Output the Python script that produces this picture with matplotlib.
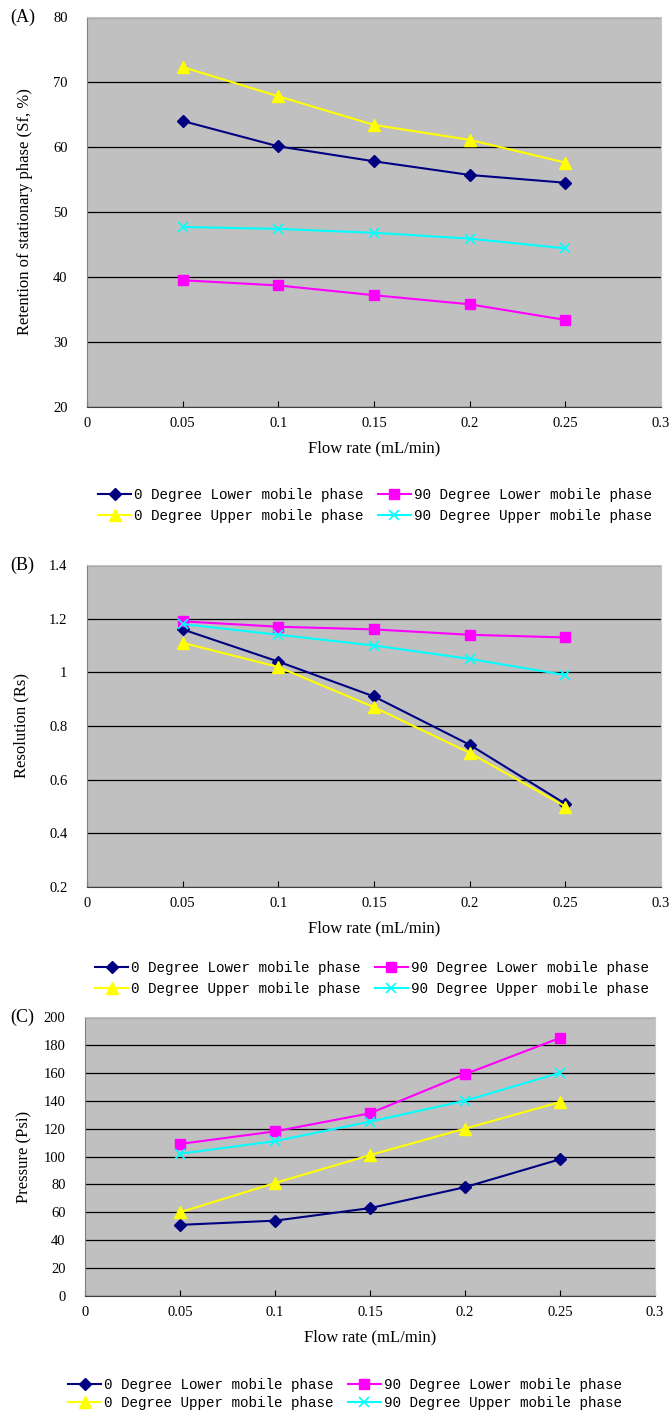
import matplotlib
matplotlib.use("Agg")
import matplotlib.pyplot as plt

flow = [0.05, 0.10, 0.15, 0.20, 0.25]
series_names = ["0 Degree Lower mobile phase", "90 Degree Lower mobile phase",
                "0 Degree Upper mobile phase", "90 Degree Upper mobile phase"]

sf_0_lower = [64.0, 60.1, 57.8, 55.7, 54.5]
sf_90_lower = [39.5, 38.7, 37.2, 35.8, 33.4]
sf_0_upper = [72.3, 67.8, 63.4, 61.1, 57.6]
sf_90_upper = [47.7, 47.4, 46.8, 45.9, 44.4]

rs_0_lower = [1.16, 1.04, 0.91, 0.73, 0.51]
rs_90_lower = [1.19, 1.17, 1.16, 1.14, 1.13]
rs_0_upper = [1.11, 1.02, 0.87, 0.70, 0.50]
rs_90_upper = [1.18, 1.14, 1.10, 1.05, 0.99]

p_0_lower = [51, 54, 63, 78, 98]
p_90_lower = [109, 118, 131, 159, 185]
p_0_upper = [60, 81, 101, 120, 139]
p_90_upper = [102, 111, 125, 140, 160]

x_ticks = [0, 0.05, 0.1, 0.15, 0.2, 0.25, 0.3]
x_ticklabels = ["0", "0.05", "0.1", "0.15", "0.2", "0.25", "0.3"]

styles = [
    dict(color="#000080", marker="D", markersize=6),
    dict(color="#FF00FF", marker="s", markersize=7),
    dict(color="#FFFF00", marker="^", markersize=8),
    dict(color="#00FFFF", marker="x", markersize=7, markeredgewidth=1.2),
]

serif = ["Liberation Serif", "DejaVu Serif"]
mono = ["Liberation Mono", "DejaVu Sans Mono"]

W, H = 670.0, 1410.0
fig = plt.figure(figsize=(6.7, 14.1), dpi=100)

def rect(l, t, r, b):
    return [l / W, 1 - b / H, (r - l) / W, (b - t) / H]

panels = [
    dict(rect=rect(87, 17, 661, 407), data=[sf_0_lower, sf_90_lower, sf_0_upper, sf_90_upper],
         ylim=(20, 80), yticks=[20, 30, 40, 50, 60, 70, 80], ylabels=None,
         ylabel="Retention of stationary phase (Sf, %)", tag="(A)",
         leg_top=481, leg_x=375, lsp=0.45, ylpad=14),
    dict(rect=rect(87, 565, 661, 887), data=[rs_0_lower, rs_90_lower, rs_0_upper, rs_90_upper],
         ylim=(0.2, 1.4), yticks=[0.2, 0.4, 0.6, 0.8, 1.0, 1.2, 1.4],
         ylabels=["0.2", "0.4", "0.6", "0.8", "1", "1.2", "1.4"],
         ylabel="Resolution (Rs)", tag="(B)", leg_top=954, leg_x=372, lsp=0.45, ylpad=14),
    dict(rect=rect(85, 1017, 655, 1296), data=[p_0_lower, p_90_lower, p_0_upper, p_90_upper],
         ylim=(0, 200), yticks=list(range(0, 201, 20)), ylabels=None,
         ylabel="Pressure (Psi)", tag="(C)", leg_top=1371, leg_x=345, lsp=0.3, ylpad=8),
]

for p in panels:
    ax = fig.add_axes(p["rect"])
    ax.set_facecolor("#C0C0C0")
    for vals, name, st in zip(p["data"], series_names, styles):
        ax.plot(flow, vals, linewidth=1.5, label=name,
                markeredgecolor=st["color"], **st)
    ax.set_xlim(0, 0.3)
    ax.set_ylim(*p["ylim"])
    ax.set_xticks(x_ticks)
    ax.set_xticklabels(x_ticklabels, fontfamily=serif, fontsize=10.5)
    ax.set_yticks(p["yticks"])
    if p["ylabels"]:
        ax.set_yticklabels(p["ylabels"])
    for lab in ax.get_yticklabels():
        lab.set_fontfamily(serif)
        lab.set_fontsize(10.5)
    ax.yaxis.grid(True, color="black", linewidth=0.9)
    ax.set_axisbelow(True)
    ax.tick_params(axis="x", direction="in", length=4, pad=7)
    ax.tick_params(axis="y", length=0, pad=14)
    for s in ["top", "right"]:
        ax.spines[s].set_color("#C8C8C8")
    ax.spines["left"].set_color("#808080")
    ax.spines["bottom"].set_color("#404040")
    ax.set_xlabel("Flow rate (mL/min)", fontfamily=serif, fontsize=12, labelpad=8)
    ax.set_ylabel(p["ylabel"], fontfamily=serif, fontsize=12, labelpad=p["ylpad"])
    fig.text(0.015, p["rect"][1] + p["rect"][3], p["tag"], fontfamily=serif,
             fontsize=13, va="center", ha="left")
    handles, labels = ax.get_legend_handles_labels()
    order = [0, 2, 1, 3]
    fig.legend([handles[i] for i in order], [labels[i] for i in order],
               loc="upper center", bbox_to_anchor=(p["leg_x"] / W, 1 - p["leg_top"] / H),
               ncol=2, frameon=False, prop={"family": mono, "size": 10.3},
               handlelength=2.3, handletextpad=0.2, columnspacing=1.0,
               labelspacing=p["lsp"], borderpad=0.0)

fig.savefig("out.png", dpi=100)
